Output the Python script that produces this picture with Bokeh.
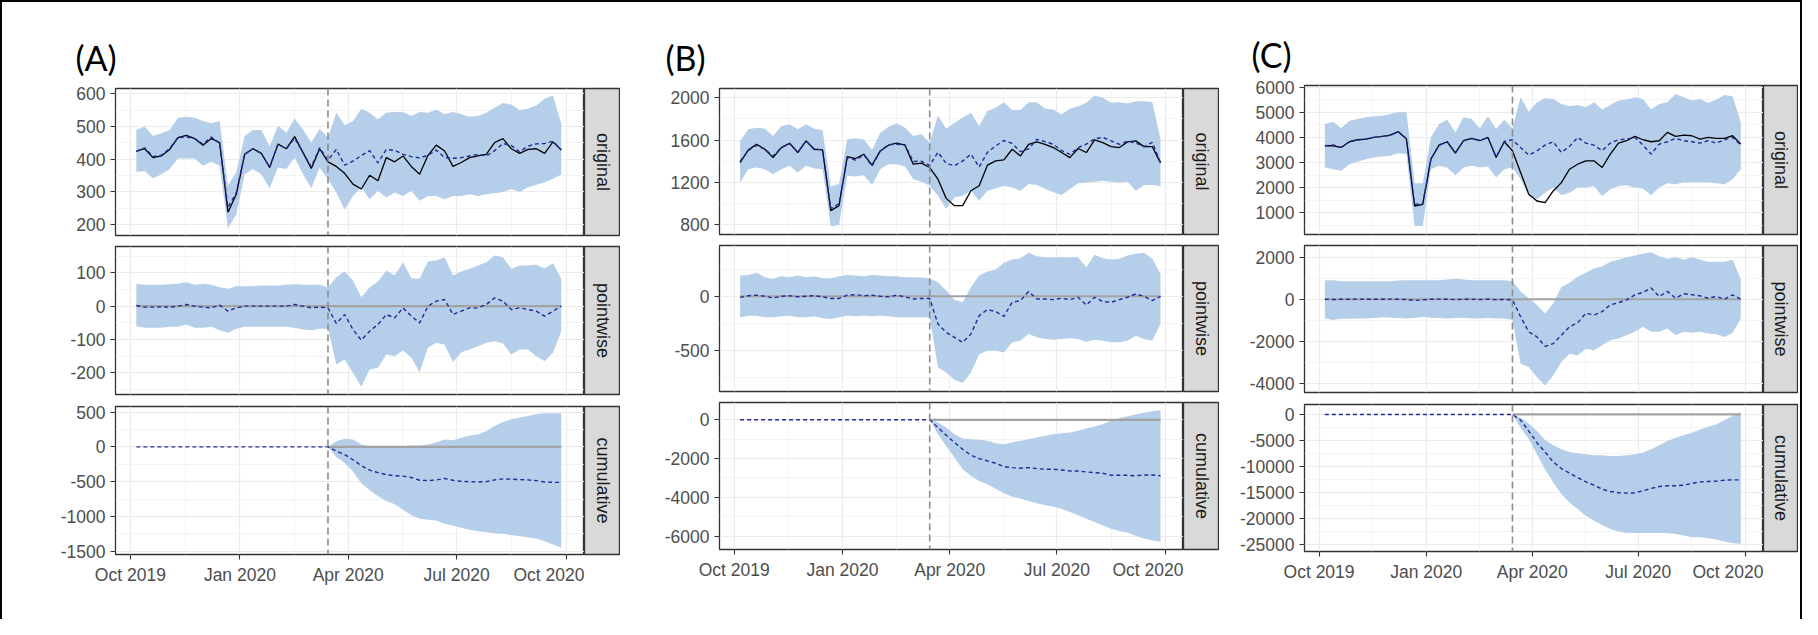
import numpy as np
import pandas as pd
from bokeh.plotting import figure
from bokeh.layouts import row, column
from bokeh.models import Range1d, FixedTicker, DatetimeTickFormatter, Span, Spacer
from bokeh.embed import file_html
from bokeh.resources import INLINE
from bokeh.core.properties import value

# ---------------- data ----------------
DATES = pd.date_range("2019-10-06", periods=52, freq="7D")
INTERVENTION = "2020-03-15"
X_START = "2019-09-18 12:00"
X_END = "2020-10-16 12:00"
X_TICKS = ["2019-10-01", "2020-01-01", "2020-04-01", "2020-07-01", "2020-10-01"]
X_MINOR = ["2019-11-16", "2020-02-15 12:00", "2020-05-16 12:00", "2020-08-16"]
FACETS = ["original", "pointwise", "cumulative"]
PANEL_LABELS = ["(A)", "(B)", "(C)"]

Z23 = [0] * 23

# Panel A
A_obs = [425, 432, 405, 410, 430, 466, 473, 463, 443, 463, 451, 238, 293, 415, 432, 418, 375, 446, 432, 469, 420, 372, 432,
         392, 378, 357, 324, 309, 351, 334, 405, 392, 410, 378, 354, 412, 443, 425, 378, 390, 405, 410, 415, 451, 463, 432,
         418, 430, 432, 418, 453, 428]
A_pred = [423, 435, 408, 412, 433, 466, 468, 463, 446, 468, 448, 253, 298, 415, 432, 418, 375, 446, 432, 464, 420, 377, 435,
          397, 430, 382, 394, 411, 426, 389, 430, 427, 415, 408, 404, 412, 428, 405, 403, 405, 410, 415, 410, 426, 448, 442,
          423, 440, 447, 448, 455, 428]
A_hi = [489, 500, 471, 479, 489, 527, 530, 527, 517, 510, 517, 319, 360, 471, 489, 489, 439, 502, 481, 524, 491, 451, 493,
        466, 542, 504, 517, 554, 542, 522, 542, 544, 544, 532, 544, 542, 552, 537, 544, 537, 530, 532, 542, 557, 572, 567,
        550, 554, 564, 585, 595, 508]
A_lo = [361, 364, 341, 354, 370, 402, 402, 402, 380, 392, 380, 189, 232, 354, 370, 354, 311, 375, 370, 405, 354, 311, 375,
        339, 298, 246, 288, 314, 278, 304, 283, 298, 288, 304, 273, 288, 288, 278, 288, 288, 293, 288, 293, 296, 300, 309,
        300, 314, 322, 330, 340, 353]
A_pw = [2, -3, -3, -2, -3, 0, 5, 0, -3, -5, 3, -15, -5, 0, 0, 0, 0, 0, 0, 5, 0, -5, -3,
        -5, -52, -25, -70, -102, -75, -55, -25, -35, -5, -30, -50, 0, 15, 20, -25, -15, -5, -5, 5, 25, 15, -10, -5, -10,
        -15, -30, -15, 0]
A_pw_hi = [67, 64, 64, 64, 66, 67, 72, 64, 67, 64, 57, 52, 60, 60, 60, 62, 62, 62, 64, 66, 64, 64, 64,
           57, 87, 104, 77, 27, 57, 74, 107, 92, 132, 84, 82, 134, 137, 147, 92, 104, 112, 122, 132, 152, 147, 112, 122,
           122, 124, 113, 129, 82]
A_pw_lo = [-60, -65, -65, -65, -62, -62, -55, -65, -65, -62, -72, -80, -68, -62, -62, -62, -62, -62, -62, -65, -70, -72, -68,
           -68, -175, -160, -200, -242, -190, -185, -145, -150, -132, -155, -198, -125, -110, -115, -168, -138, -130, -120,
           -110, -105, -112, -145, -130, -130, -150, -165, -140, -75]
A_cum = Z23 + [0, -60, -110, -185, -270, -335, -370, -400, -415, -420, -440, -480, -485, -475, -455, -480, -495, -500,
               -505, -500, -475, -460, -465, -470, -475, -485, -505, -510, -510]
A_cum_hi = Z23 + [0, 82, 116, 107, 34, 10, 0, 0, 10, 10, 19, 19, 34, 68, 107, 97, 131, 165, 180, 228, 301, 359, 398, 422,
                  447, 475, 485, 485, 485]
A_cum_lo = Z23 + [0, -146, -233, -354, -524, -621, -709, -777, -825, -903, -985, -1034, -1048, -1058, -1107, -1131, -1165,
                  -1194, -1213, -1228, -1243, -1252, -1270, -1285, -1300, -1320, -1360, -1405, -1450]

# Panel B
B_obs = [1387, 1507, 1560, 1513, 1434, 1529, 1570, 1482, 1592, 1513, 1507, 932, 979, 1444, 1425, 1466, 1362, 1497, 1551,
         1570, 1551, 1372, 1381, 1340, 1230, 1048, 979, 979, 1120, 1167, 1362, 1403, 1412, 1513, 1450, 1560, 1582, 1560,
         1529, 1482, 1434, 1520, 1482, 1601, 1576, 1538, 1529, 1582, 1592, 1538, 1538, 1384]
B_pred = [1397, 1502, 1550, 1513, 1449, 1529, 1565, 1487, 1592, 1508, 1512, 952, 999, 1434, 1410, 1461, 1352, 1497, 1556,
          1560, 1556, 1397, 1401, 1360, 1485, 1379, 1356, 1402, 1467, 1345, 1484, 1544, 1596, 1568, 1490, 1517, 1607, 1585,
          1560, 1500, 1465, 1529, 1562, 1610, 1625, 1593, 1560, 1591, 1571, 1538, 1578, 1384]
B_hi = [1592, 1702, 1717, 1708, 1639, 1733, 1749, 1702, 1749, 1708, 1695, 1161, 1183, 1607, 1614, 1607, 1507, 1670, 1727,
        1758, 1717, 1639, 1654, 1576, 1833, 1708, 1764, 1811, 1859, 1733, 1874, 1906, 1959, 1884, 1884, 1959, 1959, 1896,
        1890, 1843, 1896, 1921, 1953, 2022, 2000, 1953, 1959, 1947, 1968, 1968, 1961, 1608]
B_lo = [1199, 1324, 1340, 1324, 1277, 1324, 1356, 1293, 1356, 1331, 1324, 784, 796, 1262, 1255, 1268, 1174, 1324, 1372,
        1372, 1350, 1230, 1205, 1167, 1073, 947, 1057, 1073, 1120, 1026, 1120, 1142, 1167, 1152, 1120, 1183, 1174, 1136,
        1105, 1079, 1136, 1192, 1199, 1205, 1214, 1205, 1199, 1205, 1121, 1175, 1175, 1166]
B_pw = [-10, 5, 10, 0, -15, 0, 5, -5, 0, 5, -5, -20, -20, 10, 15, 5, 10, 0, -5, 10, -5, -25, -20,
        -20, -255, -331, -377, -423, -347, -178, -122, -141, -184, -55, -40, 43, -25, -25, -31, -18, -31, -9, -80, -9,
        -49, -55, -31, -9, 21, 0, -40, 0]
B_pw_hi = [190, 196, 215, 175, 160, 184, 175, 190, 175, 184, 166, 166, 184, 196, 190, 184, 196, 190, 184, 184, 175, 175,
           172, 166, 129, 52, -31, -55, 83, 190, 227, 245, 307, 337, 350, 399, 368, 359, 359, 359, 359, 359, 267, 380, 350,
           337, 344, 374, 390, 399, 344, 206]
B_pw_lo = [-193, -178, -178, -193, -193, -184, -178, -193, -193, -184, -202, -208, -193, -178, -184, -178, -184, -178,
           -184, -193, -193, -193, -193, -193, -653, -699, -766, -797, -699, -531, -500, -500, -515, -423, -408, -347,
           -377, -393, -398, -393, -386, -393, -417, -398, -408, -423, -423, -408, -362, -393, -408, -255]
B_cum = Z23 + [0, -397, -793, -1172, -1517, -1827, -2000, -2121, -2241, -2414, -2465, -2500, -2465, -2517, -2552, -2552,
               -2586, -2638, -2638, -2689, -2724, -2758, -2862, -2862, -2862, -2887, -2850, -2850, -2887]
B_cum_hi = Z23 + [0, -138, -397, -741, -966, -1000, -1034, -1086, -1207, -1259, -1172, -1086, -1000, -914, -828, -741,
                  -690, -655, -569, -448, -345, -224, -30, 80, 180, 280, 370, 440, 500]
B_cum_lo = Z23 + [0, -741, -1345, -1948, -2552, -2896, -3155, -3327, -3551, -3793, -3965, -4068, -4189, -4310, -4413,
                  -4482, -4586, -4758, -4930, -5103, -5275, -5448, -5620, -5741, -5827, -5980, -6120, -6230, -6290]

# Panel C
C_obs = [3667, 3667, 3600, 3827, 3907, 3933, 4000, 4040, 4093, 4227, 3933, 1267, 1333, 3133, 3693, 3827, 3373, 3867, 3960,
         3867, 4000, 3200, 3827, 3467, 2600, 1733, 1467, 1400, 1867, 2200, 2733, 2933, 3067, 3067, 2800, 3333, 3773, 3867,
         4040, 3907, 3827, 3867, 4200, 4040, 4093, 4067, 3933, 4000, 3960, 3960, 4067, 3733]
C_pred = [3667, 3700, 3600, 3827, 3890, 3933, 4000, 4040, 4080, 4227, 3950, 1330, 1360, 3133, 3690, 3827, 3400, 3867, 3960,
          3880, 3990, 3220, 3840, 3907, 3600, 3293, 3467, 3693, 3827, 3400, 3640, 4000, 3773, 3693, 3467, 3773, 3907, 3933,
          4000, 3693, 3333, 3733, 3827, 3960, 3867, 3827, 3773, 3867, 3773, 3907, 4000, 3693]
C_hi = [4533, 4627, 4360, 4667, 4733, 4800, 4840, 4867, 4933, 5000, 5027, 2173, 2173, 4000, 4533, 4707, 4200, 4800, 4733,
        4360, 4840, 4333, 4707, 4360, 5600, 5027, 5400, 5560, 5533, 5333, 5240, 5293, 5200, 5400, 5107, 5293, 5467, 5507,
        5600, 5533, 5107, 5333, 5400, 5733, 5600, 5467, 5533, 5373, 5507, 5693, 5640, 4600]
C_lo = [2800, 2733, 2667, 2933, 3027, 3133, 3200, 3240, 3267, 3373, 3333, 467, 467, 2733, 2867, 2800, 2493, 2800, 2867,
        2800, 2840, 2400, 2733, 2800, 2333, 1667, 1533, 1800, 2000, 1693, 1800, 2000, 2000, 2067, 1667, 1933, 2067, 2093,
        2000, 1960, 1693, 2000, 2173, 2133, 2200, 2200, 2200, 2200, 2173, 2133, 2333, 2733]
C_pw = [0, -15, 0, 0, 5, 0, 0, 0, 5, 0, -10, -60, -30, 0, 5, 0, -20, 0, 0, -15, 5, -20, -10,
        -30, -832, -1553, -1793, -2245, -2117, -1713, -1312, -1119, -670, -750, -590, -270, -163, -33, 211, 325, 537, 130,
        374, 49, 260, 211, 163, 49, 130, 0, 211, 0]
C_pw_hi = [911, 911, 862, 862, 862, 862, 862, 862, 862, 894, 911, 911, 911, 911, 911, 943, 976, 943, 911, 911, 911, 911,
           911, 862, 374, 49, -276, -683, -195, 585, 780, 1073, 1268, 1463, 1561, 1789, 1886, 2000, 2081, 2163, 2244, 2049,
           1919, 2000, 1886, 2000, 1886, 1789, 1789, 1789, 1886, 943]
C_pw_lo = [-913, -994, -913, -930, -913, -913, -900, -865, -880, -900, -913, -900, -833, -880, -900, -913, -900, -880,
           -913, -913, -900, -913, -913, -994, -3077, -3237, -3718, -4119, -3638, -2997, -2596, -2676, -2356, -2436,
           -2196, -1955, -1875, -1715, -1554, -1314, -1554, -1554, -1394, -1715, -1554, -1603, -1554, -1635, -1667,
           -1795, -1603, -913]
C_cum = Z23 + [0, -1081, -3180, -5406, -7187, -9095, -10367, -11257, -12084, -12911, -13547, -14310, -14755, -15010,
               -15073, -15010, -14628, -14183, -13801, -13674, -13674, -13547, -13229, -12911, -12847, -12784, -12593,
               -12529, -12529]
C_cum_hi = Z23 + [0, -636, -1717, -3180, -4897, -5915, -6678, -7187, -7441, -7632, -7823, -7823, -7950, -7950, -7823,
                  -7632, -7314, -6678, -5915, -5088, -4452, -4007, -3498, -2862, -2353, -1908, -1081, -318, 445]
C_cum_lo = Z23 + [0, -2544, -4770, -7632, -10494, -13038, -15264, -16854, -18126, -19398, -20352, -21179, -21942,
                  -22451, -22705, -22705, -22705, -22705, -22705, -22705, -22896, -23214, -23532, -23532, -23723,
                  -23977, -24359, -24613, -24804]

A_YTICKS = ([200, 300, 400, 500, 600], [-200, -100, 0, 100], [-1500, -1000, -500, 0, 500])
B_YTICKS = ([800, 1200, 1600, 2000], [-500, 0], [-6000, -4000, -2000, 0])
C_YTICKS = ([1000, 2000, 3000, 4000, 5000, 6000], [-4000, -2000, 0, 2000],
            [-25000, -20000, -15000, -10000, -5000, 0])

# ---------------- layout / style ----------------
def ms(s):
    return pd.Timestamp(s).value / 1e6

X_MS = np.array([d.value / 1e6 for d in DATES])
FILL = "#B5CEEA"
PRED_COL = "#24299A"
TICK_FONT = "Liberation Sans"

PANELS = [
    dict(label=PANEL_LABELS[0], off=-40, left=113, fw=469, sw=36, extra=0,
         tops=(86, 6, 7), frames=(147, 148, 148), bottoms=(5, 5, 65),
         ranges=((167, 616), (-265, 179), (-1549, 582)), yticks=A_YTICKS,
         series=dict(obs=A_obs, pred=A_pred, hi=A_hi, lo=A_lo, pw=A_pw, pw_hi=A_pw_hi, pw_lo=A_pw_lo,
                     cum=A_cum, cum_hi=A_cum_hi, cum_lo=A_cum_lo)),
    dict(label=PANEL_LABELS[1], off=-54, left=99, fw=464, sw=36, extra=0,
         tops=(86, 6, 6), frames=(146, 146, 147), bottoms=(5, 5, 70),
         ranges=((706, 2088), (-874, 466), (-6692, 894)), yticks=B_YTICKS,
         series=dict(obs=B_obs, pred=B_pred, hi=B_hi, lo=B_lo, pw=B_pw, pw_hi=B_pw_hi, pw_lo=B_pw_lo,
                     cum=B_cum, cum_hi=B_cum_hi, cum_lo=B_cum_lo)),
    dict(label=PANEL_LABELS[2], off=-53, left=85, fw=459, sw=35, extra=2,
         tops=(83, 6, 7), frames=(149, 147, 147), bottoms=(5, 5, 68),
         ranges=((132, 6068), (-4447, 2562), (-26260, 1908)), yticks=C_YTICKS,
         series=dict(obs=C_obs, pred=C_pred, hi=C_hi, lo=C_lo, pw=C_pw, pw_hi=C_pw_hi, pw_lo=C_pw_lo,
                     cum=C_cum, cum_hi=C_cum_hi, cum_lo=C_cum_lo)),
]


def minor_of(ticks):
    step = ticks[1] - ticks[0]
    return [t - step / 2 for t in ticks] + [ticks[-1] + step / 2]


def main_fig(spec, i):
    top, fh, bottom = spec["tops"][i], spec["frames"][i], spec["bottoms"][i]
    p = figure(width=spec["left"] + spec["fw"], height=top + fh + bottom,
               x_axis_type="datetime", x_range=Range1d(ms(X_START), ms(X_END)),
               y_range=Range1d(*spec["ranges"][i]),
               output_backend="svg", toolbar_location=None,
               min_border_left=spec["left"], min_border_right=0,
               min_border_top=top, min_border_bottom=bottom)
    p.background_fill_color = "white"
    p.border_fill_color = "white"
    p.outline_line_color = "#333333"
    p.outline_line_width = 1.3

    yt = spec["yticks"][i]
    yticker = FixedTicker(ticks=yt, minor_ticks=minor_of(yt))
    xticker = FixedTicker(ticks=[ms(t) for t in X_TICKS], minor_ticks=[ms(t) for t in X_MINOR])
    p.yaxis.ticker = yticker
    p.xaxis.ticker = xticker
    p.ygrid.ticker = yticker
    p.xgrid.ticker = xticker
    for g in (p.xgrid, p.ygrid):
        g.grid_line_color = "#EBEBEB"
        g.grid_line_width = 1.2
        g.minor_grid_line_color = "#EFEFEF"
        g.minor_grid_line_width = 0.7

    p.yaxis.major_label_overrides = {t: str(t) for t in yt}
    for ax in (p.xaxis, p.yaxis):
        ax.axis_line_color = None
        ax.major_tick_line_color = "#333333"
        ax.major_tick_line_width = 1.1
        ax.major_tick_in = 0
        ax.major_tick_out = 5
        ax.minor_tick_line_color = None
        ax.major_label_text_font = TICK_FONT
        ax.major_label_text_font_size = "17.5px"
        ax.major_label_text_color = "#4D4D4D"
        ax.major_label_standoff = 5
    fmt = "%b %Y"
    p.xaxis.formatter = DatetimeTickFormatter(days=fmt, months=fmt, years=fmt, hours=fmt)
    if i != 2:
        p.xaxis.visible = False

    s = spec["series"]
    if i == 0:
        p.varea(x=X_MS, y1=s["lo"], y2=s["hi"], fill_color=FILL)
        p.line(X_MS, s["obs"], line_color="black", line_width=1.3)
        p.line(X_MS, s["pred"], line_color=PRED_COL, line_width=1.4, line_dash="4 3")
        p.title.text = spec["label"]
        p.title.text_font = "Lato"
        p.title.text_font_size = "34px"
        p.title.text_font_style = "normal"
        p.title.text_color = "black"
        p.title.align = "left"
        p.title.offset = spec["off"]
        p.title.standoff = 22
    elif i == 1:
        p.varea(x=X_MS, y1=s["pw_lo"], y2=s["pw_hi"], fill_color=FILL)
        p.line([X_MS[0], X_MS[-1]], [0, 0], line_color="#A3A3A3", line_width=2.2)
        p.line(X_MS, s["pw"], line_color=PRED_COL, line_width=1.4, line_dash="4 3")
    else:
        p.varea(x=X_MS, y1=s["cum_lo"], y2=s["cum_hi"], fill_color=FILL)
        p.line([ms(INTERVENTION), X_MS[-1]], [0, 0], line_color="#A3A3A3", line_width=2.2)
        p.line(X_MS, s["cum"], line_color=PRED_COL, line_width=1.4, line_dash="4 3")

    p.add_layout(Span(location=ms(INTERVENTION), dimension="height", line_color="#8C8C8C",
                      line_width=1.6, line_dash="7 4"))
    return p


def strip_fig(spec, i):
    top, fh, bottom = spec["tops"][i], spec["frames"][i], spec["bottoms"][i]
    s = figure(width=spec["sw"], height=top + fh + bottom,
               x_range=Range1d(0, 1), y_range=Range1d(0, 1),
               x_axis_location=None, y_axis_location=None,
               output_backend="svg", toolbar_location=None,
               min_border_left=0, min_border_right=0, min_border_top=top, min_border_bottom=bottom)
    s.background_fill_color = "#D9D9D9"
    s.border_fill_color = "white"
    s.outline_line_color = "#333333"
    s.outline_line_width = 1.3
    s.grid.visible = False
    s.text(x=[0.5], y=[0.5], text=[FACETS[i]], angle=-np.pi / 2,
           text_align="center", text_baseline="middle",
           text_font=value(TICK_FONT), text_font_size="18px", text_color="#1A1A1A")
    return s


cols = []
for spec in PANELS:
    rows = [row(main_fig(spec, i), strip_fig(spec, i), spacing=0) for i in range(3)]
    cols.append(column(*rows, spacing=0))
    if spec["extra"]:
        cols.append(Spacer(width=spec["extra"], height=617))

layout = row(*cols, spacing=0,
             styles={"border-left": "2px solid black", "border-top": "2px solid black",
                     "border-right": "2px solid black"})

open("out.html", "w").write(file_html(layout, INLINE))
